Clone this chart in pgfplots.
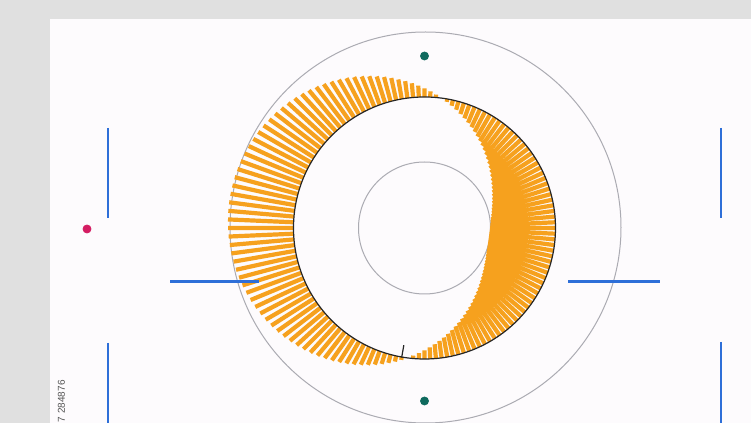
\documentclass[border=0pt]{standalone}
\usepackage{pgfplots}
\pgfplotsset{compat=1.18}
\usepackage{fontspec}
\setmainfont{Liberation Sans}
\definecolor{bggray}{HTML}{E0E0E0}
\definecolor{panel}{HTML}{FDFBFD}
\definecolor{barorange}{HTML}{F6A11E}
\definecolor{ringgray}{HTML}{ABABB2}
\definecolor{blueline}{HTML}{2E6FD8}
\definecolor{tealdot}{HTML}{0F6A5E}
\definecolor{magdot}{HTML}{D41C62}
\definecolor{txtgray}{HTML}{555555}
\begin{document}
\begin{tikzpicture}
\begin{axis}[
  width=375.5pt, height=211.5pt, scale only axis,
  xmin=-424.5, xmax=326.5, ymin=-195, ymax=228,
  hide axis,
]
\coordinate (BL) at (rel axis cs:0,0);
\coordinate (TR) at (rel axis cs:1,1);
\fill[bggray] (rel axis cs:0,0) rectangle (rel axis cs:1,1);
\fill[panel] (axis cs:-375,-195) rectangle (axis cs:326.5,209);
\draw[ringgray, line width=0.5pt] (axis cs:1,0.5) circle [radius=195.5];
\draw[ringgray, line width=0.5pt] (axis cs:0,0) circle [radius=66];

% radial bars: angle (deg), radius; each bar from base radius 131
\addplot[barorange, line width=2.1pt, data cs=polar, empty line=jump, no markers] table {
0 131
0 65.6

2.5 131
2.5 66.0

5 131
5 66.5

7.5 131
7.5 67.2

10 131
10 68.1

12.5 131
12.5 69.1

15 131
15 70.0

17.5 131
17.5 71.2

20 131
20 72.5

22.5 131
22.5 73.8

25 131
25 75.3

27.5 131
27.5 76.9

30 131
30 78.6

32.5 131
32.5 80.4

35 131
35 82.3

37.5 131
37.5 84.3

40 131
40 86.4

42.5 131
42.5 88.6

45 131
45 90.8

47.5 131
47.5 93.1

50 131
50 95.5

52.5 131
52.5 98.0

55 131
55 100.5

57.5 131
57.5 103.1

60 131
60 105.7

62.5 131
62.5 108.4

65 131
65 111.2

67.5 131
67.5 113.9

70 131
70 116.7

72.5 131
72.5 119.5

75 131
75 122.4

77.5 131
77.5 125.2

80 131
80 128.1

85 131
85 133.9

87.5 131
87.5 136.8

90 131
90 139.6

92.5 131
92.5 142.5

95 131
95 145.3

97.5 131
97.5 148.1

100 131
100 150.8

102.5 131
102.5 153.6

105 131
105 156.3

107.5 131
107.5 158.9

110 131
110 161.5

112.5 131
112.5 164.0

115 131
115 166.5

117.5 131
117.5 168.9

120 131
120 171.2

122.5 131
122.5 173.4

125 131
125 175.6

127.5 131
127.5 177.7

130 131
130 179.7

132.5 131
132.5 181.6

135 131
135 183.4

137.5 131
137.5 185.1

140 131
140 186.7

142.5 131
142.5 188.2

145 131
145 189.5

147.5 131
147.5 190.8

150 131
150 192.0

152.5 131
152.5 193.0

155 131
155 193.9

157.5 131
157.5 194.8

160 131
160 195.4

162.5 131
162.5 196.0

165 131
165 196.4

167.5 131
167.5 196.7

170 131
170 196.9

172.5 131
172.5 197.0

175 131
175 196.9

177.5 131
177.5 196.7

180 131
180 196.4

182.5 131
182.5 196.0

185 131
185 195.4

187.5 131
187.5 194.8

190 131
190 193.9

192.5 131
192.5 193.0

195 131
195 192.0

197.5 131
197.5 190.8

200 131
200 189.5

202.5 131
202.5 188.2

205 131
205 186.7

207.5 131
207.5 185.1

210 131
210 183.4

212.5 131
212.5 181.6

215 131
215 179.7

217.5 131
217.5 177.7

220 131
220 175.6

222.5 131
222.5 173.4

225 131
225 171.2

227.5 131
227.5 168.9

230 131
230 166.5

232.5 131
232.5 164.0

235 131
235 161.5

237.5 131
237.5 158.9

240 131
240 156.3

242.5 131
242.5 153.6

245 131
245 150.8

247.5 131
247.5 148.1

250 131
250 145.3

252.5 131
252.5 142.5

255 131
255 139.6

257.5 131
257.5 136.8

260 131
260 133.9

265 131
265 128.1

267.5 131
267.5 125.2

270 131
270 122.4

272.5 131
272.5 119.5

275 131
275 116.7

277.5 131
277.5 113.9

280 131
280 111.2

282.5 131
282.5 108.4

285 131
285 105.7

287.5 131
287.5 103.1

290 131
290 100.5

292.5 131
292.5 98.0

295 131
295 95.5

297.5 131
297.5 93.1

300 131
300 90.8

302.5 131
302.5 88.6

305 131
305 86.4

307.5 131
307.5 84.3

310 131
310 82.3

312.5 131
312.5 80.4

315 131
315 78.6

317.5 131
317.5 76.9

320 131
320 75.3

322.5 131
322.5 73.8

325 131
325 72.5

327.5 131
327.5 71.2

330 131
330 70.0

332.5 131
332.5 69.1

335 131
335 68.1

337.5 131
337.5 67.2

340 131
340 66.5

342.5 131
342.5 66.0

345 131
345 65.6

347.5 131
347.5 65.3

350 131
350 65.1

352.5 131
352.5 65.0

355 131
355 65.1

357.5 131
357.5 65.3
};

\draw[black!85, line width=0.6pt] (axis cs:0,0) circle [radius=131];
\addplot[black!85, line width=0.6pt, data cs=polar, no markers] coordinates {(260,119) (260,131.5)};

% blue guide segments
\addplot[blueline, line width=1.3pt, empty line=jump, no markers] table {
-316.5 100
-316.5 10

-316.5 -115
-316.5 -195

296.5 100
296.5 10

296.5 -114
296.5 -195

-254.5 -53.5
-165.5 -53.5

143.5 -53.5
235.5 -53.5
};

\addplot[only marks, mark=*, mark size=2pt, tealdot] coordinates {(0,172) (0,-173)};
\addplot[only marks, mark=*, mark size=2pt, magdot] coordinates {(-337.5,-1)};

\node[rotate=90, anchor=east, inner sep=0pt, text=txtgray, font=\fontsize{5}{6}\selectfont] at (axis cs:-363,-152) {7 284876};
\end{axis}
\pgfresetboundingbox
\useasboundingbox (BL) rectangle (TR);
\end{tikzpicture}
\end{document}
